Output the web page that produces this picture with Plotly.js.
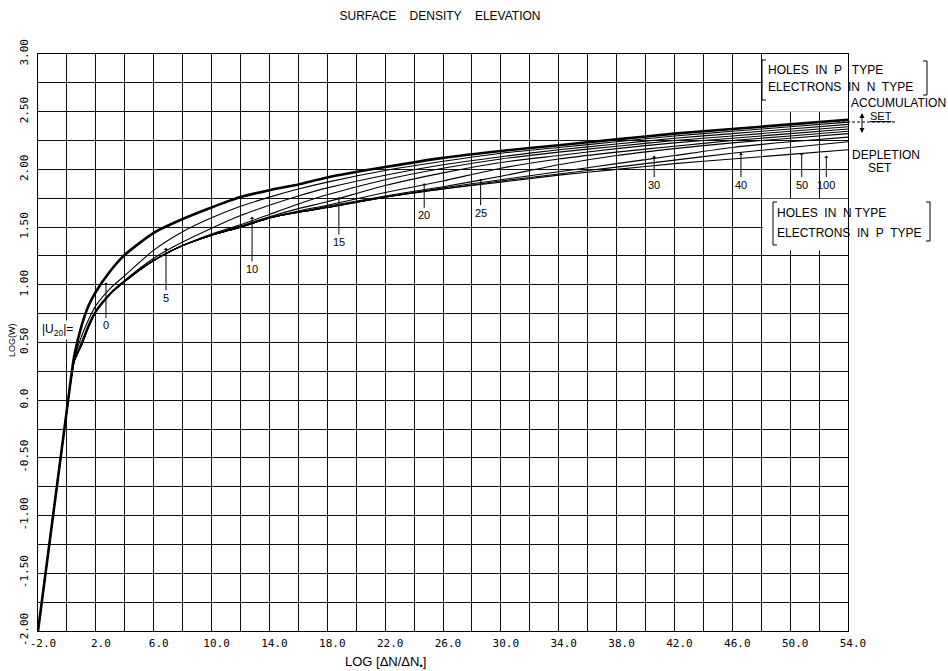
<!DOCTYPE html>
<html><head><meta charset="utf-8">
<script src="https://cdn.plot.ly/plotly-3.0.1.min.js"></script>
<style>html,body{margin:0;padding:0;background:#fff}#chart{width:948px;height:671px}</style>
</head><body><div id="chart"></div>
<script>
// ---- data ----
const logDeltaN = [-2, 0, 0.5, 1, 1.5, 2, 3, 4, 6, 8, 10, 12, 14, 16, 18, 22, 26, 30, 34, 38, 42, 46, 50, 54];
const logW_U0   = [-2, -0.08, 0.38, 0.64, 0.82, 0.94, 1.12, 1.26, 1.45, 1.57, 1.67, 1.76, 1.82, 1.87, 1.93, 2.02, 2.10, 2.16, 2.21, 2.26, 2.31, 2.35, 2.39, 2.43];
const logW_U5   = [-2, -0.08, 0.35, 0.55, 0.70, 0.82, 0.97, 1.08, 1.30, 1.46, 1.58, 1.68, 1.76, 1.83, 1.89, 1.99, 2.07, 2.14, 2.19, 2.24, 2.29, 2.33, 2.37, 2.41];
const logW_U10  = [-2, -0.08, 0.34, 0.50, 0.66, 0.78, 0.93, 1.04, 1.23, 1.37, 1.49, 1.60, 1.69, 1.77, 1.84, 1.95, 2.04, 2.11, 2.17, 2.22, 2.27, 2.31, 2.35, 2.39];
const logW_U15  = [-2, -0.08, 0.34, 0.48, 0.64, 0.77, 0.92, 1.03, 1.21, 1.34, 1.44, 1.52, 1.61, 1.70, 1.78, 1.91, 2.01, 2.09, 2.15, 2.20, 2.25, 2.29, 2.33, 2.37];
const logW_U20  = [-2, -0.08, 0.34, 0.48, 0.64, 0.77, 0.92, 1.03, 1.21, 1.34, 1.43, 1.51, 1.59, 1.66, 1.72, 1.86, 1.97, 2.06, 2.12, 2.18, 2.23, 2.27, 2.31, 2.35];
const logW_U25  = [-2, -0.08, 0.34, 0.48, 0.64, 0.77, 0.92, 1.03, 1.21, 1.34, 1.43, 1.50, 1.58, 1.64, 1.69, 1.80, 1.90, 2.01, 2.09, 2.15, 2.20, 2.25, 2.29, 2.33];
const logW_U30  = [-2, -0.08, 0.34, 0.48, 0.64, 0.77, 0.92, 1.03, 1.21, 1.34, 1.43, 1.50, 1.58, 1.63, 1.68, 1.77, 1.85, 1.94, 2.04, 2.12, 2.18, 2.23, 2.27, 2.31];
const logW_U40  = [-2, -0.08, 0.34, 0.48, 0.64, 0.77, 0.92, 1.03, 1.21, 1.34, 1.43, 1.50, 1.58, 1.63, 1.67, 1.76, 1.84, 1.91, 1.98, 2.05, 2.12, 2.19, 2.24, 2.28];
const logW_U50  = [-2, -0.08, 0.34, 0.48, 0.64, 0.77, 0.92, 1.03, 1.21, 1.34, 1.43, 1.50, 1.58, 1.63, 1.67, 1.76, 1.83, 1.90, 1.96, 2.02, 2.08, 2.14, 2.19, 2.24];
const logW_U100 = [-2, -0.08, 0.33, 0.47, 0.63, 0.76, 0.92, 1.03, 1.21, 1.34, 1.43, 1.50, 1.58, 1.63, 1.67, 1.76, 1.83, 1.89, 1.95, 2.00, 2.05, 2.09, 2.13, 2.17];

const curveNames = ['0', '5', '10', '15', '20', '25', '30', '40', '50', '100'];
const curveValues = [logW_U0, logW_U5, logW_U10, logW_U15, logW_U20, logW_U25, logW_U30, logW_U40, logW_U50, logW_U100];

const xTickVals = [-2, 2, 6, 10, 14, 18, 22, 26, 30, 34, 38, 42, 46, 50, 54];
const xTickText = ['-2.0', '2.0', '6.0', '10.0', '14.0', '18.0', '22.0', '26.0', '30.0', '34.0', '38.0', '42.0', '46.0', '50.0', '54.0'];
const yTickVals = [-2, -1.5, -1, -0.5, 0, 0.5, 1, 1.5, 2, 2.5, 3];
const yTickText = ['-2.00', '-1.50', '-1.00', '-0.50', '0.0', '0.50', '1.00', '1.50', '2.00', '2.50', '3.00'];

// label arrow tips on the curves (data coords)
const labelTipX = [2.70, 6.85, 12.8, 18.8, 24.7, 28.6, 40.6, 46.6, 50.8, 52.5];
const labelTipY = [1.02, 1.32, 1.59, 1.76, 1.88, 1.92, 2.12, 2.145, 2.145, 2.12];

// ---- layout helpers ----
const L = 38, R = 848, T = 54, B = 631;
const px = v => (v - L) / (R - L);
const py = v => (B - v) / (B - T);

const traces = curveValues.map((ys, i) => ({
  type: 'scatter', mode: 'lines', x: logDeltaN, y: ys, name: curveNames[i],
  line: {color: '#000', width: i === 0 ? 2.6 : 1.1, shape: 'spline', smoothing: 0.6}, hoverinfo: 'skip'
}));

const FAM = 'Liberation Sans, Arial, sans-serif';
const BLACK = '#000000';
const labelOffsets = [43, 50, 52, 45, 32, 34, 29, 32, 32, 29];
const annotations = curveNames.map((n, i) => ({
  x: labelTipX[i], y: labelTipY[i], xref: 'x', yref: 'y', text: n,
  showarrow: true, ax: 0, ay: labelOffsets[i], arrowhead: 1, arrowsize: 0.7, arrowwidth: 1,
  arrowcolor: BLACK, font: {family: FAM, size: 11, color: BLACK}, standoff: 0
}));

function paperText(text, xp, yp, size, opts) {
  return Object.assign({xref: 'paper', yref: 'paper', x: px(xp), y: py(yp), text: text,
    showarrow: false, xanchor: 'left', yanchor: 'middle', font: {family: FAM, size: size, color: BLACK}}, opts || {});
}
annotations.push(
  paperText('|U<sub>20</sub>|=', 40, 330, 12, {bgcolor: '#fff'}),
  paperText('HOLES\u00a0 IN\u00a0 P\u00a0\u00a0 TYPE', 766, 70, 12),
  paperText('ELECTRONS\u00a0 IN\u00a0 N\u00a0 TYPE', 766, 87, 12),
  paperText('ACCUMULATION', 849, 103, 12),
  paperText('<u>SET</u>', 868, 116, 11),
  paperText('DEPLETION', 850, 155, 12),
  paperText('SET', 866, 168, 12),
  paperText('HOLES\u00a0 IN\u00a0 N TYPE', 775, 213, 12),
  paperText('ELECTRONS\u00a0 IN\u00a0 P\u00a0 TYPE', 775, 233, 12),
  paperText('LOG(W)', 12, 340, 9, {xanchor: 'center', textangle: -90}),
  paperText('LOG [ΔN/ΔN<sub>•</sub>]', 385, 662, 13, {xanchor: 'center'})
);

function pline(x0, y0, x1, y1, extra) {
  return Object.assign({type: 'line', xref: 'paper', yref: 'paper', x0: px(x0), y0: py(y0), x1: px(x1), y1: py(y1),
    line: {color: BLACK, width: 1}}, extra || {});
}
const shapes = [
  // blank boxes behind the legend texts (cover gridlines)
  {type: 'rect', xref: 'x', yref: 'y', x0: 48.1, x1: 54, y0: 2.5, y1: 3.0, fillcolor: '#fff', line: {width: 0}, layer: 'between'},
  {type: 'rect', xref: 'x', yref: 'y', x0: 48.1, x1: 54, y0: 1.30, y1: 1.745, fillcolor: '#fff', line: {width: 0}, layer: 'between'},
  // upper bracket
  pline(762, 60, 762, 100), pline(762, 60, 766, 60), pline(762, 100, 766, 100),
  pline(927, 61, 927, 95), pline(927, 61, 923, 61), pline(927, 95, 923, 95),
  // lower bracket
  pline(773, 202, 773, 245), pline(773, 202, 777, 202), pline(773, 245, 777, 245),
  pline(930, 202, 930, 241), pline(930, 202, 926, 202), pline(930, 241, 926, 241),
  // accumulation dashed line and double arrow
  pline(837, 122, 897, 122, {line: {color: BLACK, width: 1, dash: '3px,2px'}}),
  pline(862, 114, 862, 132),
  {type: 'path', xref: 'paper', yref: 'paper', path: `M ${px(859.5)} ${py(118)} L ${px(862)} ${py(113)} L ${px(864.5)} ${py(118)} Z`, fillcolor: BLACK, line: {width: 0}},
  {type: 'path', xref: 'paper', yref: 'paper', path: `M ${px(859.5)} ${py(128)} L ${px(862)} ${py(133)} L ${px(864.5)} ${py(128)} Z`, fillcolor: BLACK, line: {width: 0}}
];

const tickFont = {family: 'DejaVu Sans Mono, monospace', size: 11, color: BLACK};
const layout = {
  width: 948, height: 671,
  margin: {l: L, r: 948 - R, t: T, b: 671 - B},
  paper_bgcolor: '#fff', plot_bgcolor: '#fff',
  font: {family: FAM, color: BLACK},
  showlegend: false,
  title: {text: 'SURFACE\u00a0\u00a0\u00a0 DENSITY\u00a0\u00a0\u00a0 ELEVATION', x: px(440), xref: 'paper', xanchor: 'center',
          y: 1 - 16 / 671, yanchor: 'middle', font: {family: FAM, size: 12, color: BLACK}},
  xaxis: {range: [-2, 54], tickmode: 'array', tickvals: xTickVals, ticktext: xTickText,
          showgrid: true, gridcolor: '#111', gridwidth: 1,
          minor: {tick0: 0, dtick: 2, showgrid: true, gridcolor: '#111', gridwidth: 1, ticks: ''},
          showline: true, mirror: true, linecolor: BLACK, linewidth: 1.2, zeroline: false,
          ticks: '', tickfont: tickFont, ticklabelshift: 5, ticklabelstandoff: 2},
  yaxis: {range: [-2, 3], tickmode: 'array', tickvals: yTickVals, ticktext: yTickText,
          showgrid: true, gridcolor: '#111', gridwidth: 1,
          minor: {tick0: 0, dtick: 0.25, showgrid: true, gridcolor: '#111', gridwidth: 1, ticks: ''},
          showline: true, mirror: true, linecolor: BLACK, linewidth: 1.2, zeroline: false,
          ticks: '', tickangle: -90, tickfont: tickFont, ticklabelstandoff: 4},
  annotations: annotations,
  shapes: shapes
};

Plotly.newPlot('chart', traces, layout, {staticPlot: true, displayModeBar: false});
</script>
</body></html>
